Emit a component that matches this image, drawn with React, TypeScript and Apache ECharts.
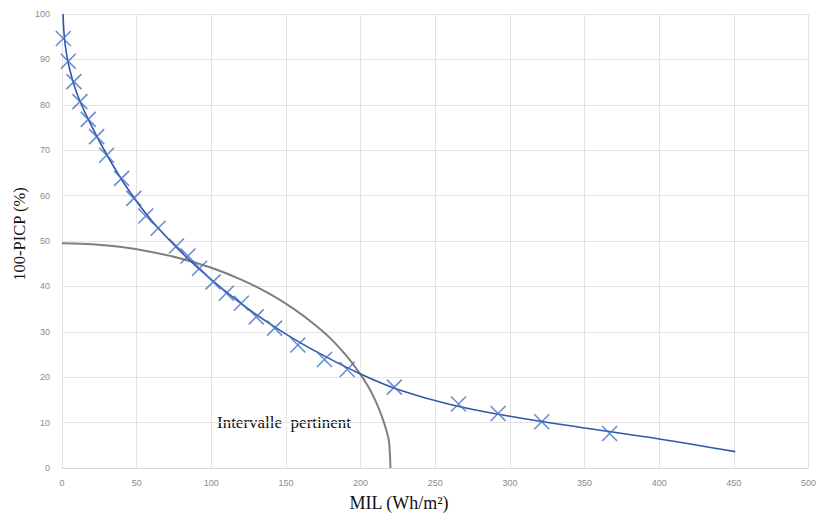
import React, { useEffect, useRef } from "react";
import * as echarts from "echarts";

// Observed points (MIL, 100-PICP)
const milValues = [0.9, 4.2, 8.0, 12.0, 17.6, 23.2, 29.9, 39.9, 48.1, 56.1, 64.4, 76.7, 84.4, 92.2, 101.2, 110.1, 120.1, 130.1, 142.4, 158.0, 175.8, 191.0, 222.6, 265.6, 292.1, 321.3, 366.8];
const picpValues = [94.6, 89.6, 85.1, 80.7, 76.8, 73.0, 68.9, 63.8, 59.4, 55.5, 52.8, 48.9, 46.7, 44.0, 41.0, 38.5, 36.3, 33.3, 30.8, 27.1, 23.9, 21.7, 17.8, 14.1, 12.0, 10.2, 7.6];

// Fitted trend line
const trendX = [0.7, 2.0, 5.0, 10.0, 18.0, 30.0, 45.0, 60.0, 80.0, 100.0, 125.0, 150.0, 175.0, 200.0, 225.0, 260.0, 300.0, 350.0, 400.0, 451.0];
const trendY = [100.0, 93.5, 88.0, 82.5, 76.5, 69.0, 61.0, 54.5, 47.5, 41.5, 35.0, 29.5, 24.8, 20.7, 17.3, 14.0, 11.4, 8.8, 6.4, 3.6];

// "Intervalle pertinent" boundary
const boundX = [0, 20, 40, 60, 80, 100, 120, 140, 155, 170, 180, 190, 198, 205, 210, 214, 217, 219, 219.7, 220];
const boundY = [49.5, 49.3, 48.7, 47.6, 46.1, 44.1, 41.5, 38.2, 35.1, 31.4, 28.5, 24.9, 21.5, 18.0, 14.8, 11.6, 8.6, 5.9, 2.6, 0];

const xTicks = [0, 50, 100, 150, 200, 250, 300, 350, 400, 450, 500];
const yTicks = [0, 10, 20, 30, 40, 50, 60, 70, 80, 90, 100];

const xTitle = "MIL (Wh/m²)";
const yTitle = "100-PICP (%)";
const annotation = "Intervalle  pertinent";

export default function App() {
  const ref = useRef<HTMLDivElement>(null);
  useEffect(() => {
    if (!ref.current) return;
    const chart = echarts.init(ref.current, null, { renderer: "svg" });
    const labelStyle = { color: "#8c8c8c", fontSize: 9, fontFamily: "Liberation Sans" };
    chart.setOption({
      animation: false,
      backgroundColor: "#ffffff",
      grid: { left: 62, right: 9, top: 14, bottom: 47, containLabel: false },
      xAxis: {
        type: "value",
        min: xTicks[0],
        max: xTicks[xTicks.length - 1],
        interval: 50,
        axisLine: { show: true, lineStyle: { color: "#d9d9d9", width: 1 } },
        axisTick: { show: false },
        axisLabel: { ...labelStyle, margin: 10 },
        splitLine: { show: true, lineStyle: { color: "#e3e3e3", width: 1 } },
      },
      yAxis: {
        type: "value",
        min: yTicks[0],
        max: yTicks[yTicks.length - 1],
        interval: 10,
        axisLine: { show: false },
        axisTick: { show: false },
        axisLabel: { ...labelStyle, margin: 12 },
        splitLine: { show: true, lineStyle: { color: "#e3e3e3", width: 1 } },
      },
      graphic: [
        {
          type: "text",
          x: 399,
          y: 503,
          style: {
            text: xTitle,
            fill: "#111",
            font: '18px "Liberation Serif"',
            textAlign: "center",
            textVerticalAlign: "middle",
          },
        },
        {
          type: "text",
          x: 19,
          y: 234,
          rotation: Math.PI / 2,
          style: {
            text: yTitle,
            fill: "#111",
            font: '16.5px "Liberation Serif"',
            textAlign: "center",
            textVerticalAlign: "middle",
          },
        },
        {
          type: "text",
          x: 284,
          y: 422,
          style: {
            text: annotation,
            fill: "#111",
            font: '17px "Liberation Serif"',
            textAlign: "center",
            textVerticalAlign: "middle",
          },
        },
      ],
      series: [
        {
          type: "line",
          data: boundX.map((x, i) => [x, boundY[i]]),
          smooth: 0.25,
          showSymbol: false,
          lineStyle: { color: "#7f7f7f", width: 2 },
          z: 2,
        },
        {
          type: "line",
          data: trendX.map((x, i) => [x, trendY[i]]),
          smooth: 0.4,
          showSymbol: false,
          lineStyle: { color: "#2f57a8", width: 1.6 },
          z: 3,
        },
        {
          type: "scatter",
          data: milValues.map((x, i) => [x, picpValues[i]]),
          symbol: "path://M0,0L10,10M10,0L0,10",
          symbolSize: 15,
          itemStyle: { color: "rgba(0,0,0,0)", borderColor: "#4472c4", borderWidth: 1.6 },
          z: 4,
        },
      ],
    });
    return () => chart.dispose();
  }, []);
  return <div ref={ref} style={{ width: 819, height: 515, position: "absolute", left: 0, top: 0 }} />;
}
